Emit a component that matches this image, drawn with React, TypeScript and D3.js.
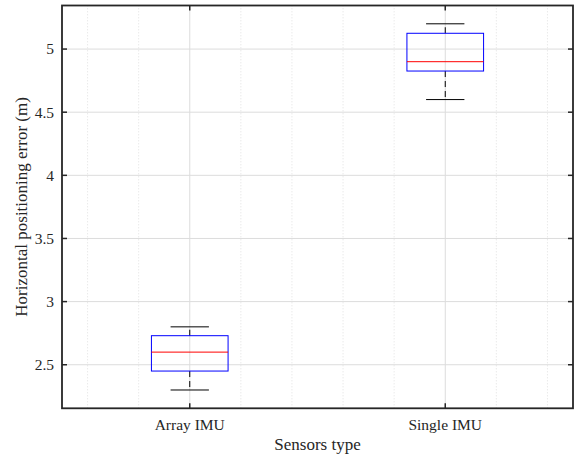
import React from "react";
import * as d3 from "d3";

const categories = ["Array IMU", "Single IMU"];
const whiskerLow = [2.3, 4.6];
const q1 = [2.45, 4.826];
const median = [2.6, 4.9];
const q3 = [2.73, 5.125];
const whiskerHigh = [2.8, 5.2];
const yTicks = [2.5, 3, 3.5, 4, 4.5, 5];
const xMinorTicks = [0.6, 0.8, 1.2, 1.4, 1.6, 1.8, 2.2, 2.4];

const W = 582, H = 456;
const M = { left: 62, right: 9, top: 5.5, bottom: 47.7 };

export default function App() {
  const x = d3.scaleLinear().domain([0.5, 2.5]).range([M.left, W - M.right]);
  const y = d3.scaleLinear().domain([2.155, 5.345]).range([H - M.bottom, M.top]);
  const x0 = M.left, x1 = W - M.right, y0 = H - M.bottom, y1 = M.top;
  const font = "'Liberation Serif', 'Times New Roman', serif";
  const boxHalf = 0.15, capHalf = 0.075;
  return (
    <svg width={W} height={H} style={{ position: "absolute", left: 0, top: 0, background: "#fff" }}>
      {xMinorTicks.map((t) => (
        <line key={"mx" + t} x1={x(t)} x2={x(t)} y1={y0} y2={y1} stroke="#d9d9d9" strokeWidth={0.8} strokeDasharray="1,2" />
      ))}
      {[1, 2].map((t) => (
        <line key={"gx" + t} x1={x(t)} x2={x(t)} y1={y0} y2={y1} stroke="#dcdcdc" strokeWidth={1} />
      ))}
      {yTicks.map((t) => (
        <line key={"gy" + t} x1={x0} x2={x1} y1={y(t)} y2={y(t)} stroke="#dcdcdc" strokeWidth={1} />
      ))}
      {categories.map((c, i) => {
        const cx = x(i + 1);
        const bw = x(1 + boxHalf) - x(1);
        const cw = x(1 + capHalf) - x(1);
        return (
          <g key={c}>
            <line x1={cx} x2={cx} y1={y(q3[i])} y2={y(whiskerHigh[i])} stroke="#000" strokeWidth={1} strokeDasharray="6,4" />
            <line x1={cx} x2={cx} y1={y(q1[i])} y2={y(whiskerLow[i])} stroke="#000" strokeWidth={1} strokeDasharray="6,4" />
            <line x1={cx - cw} x2={cx + cw} y1={y(whiskerHigh[i])} y2={y(whiskerHigh[i])} stroke="#000" strokeWidth={1} />
            <line x1={cx - cw} x2={cx + cw} y1={y(whiskerLow[i])} y2={y(whiskerLow[i])} stroke="#000" strokeWidth={1} />
            <rect x={cx - bw} y={y(q3[i])} width={2 * bw} height={y(q1[i]) - y(q3[i])} fill="none" stroke="#0000ff" strokeWidth={1} />
            <line x1={cx - bw} x2={cx + bw} y1={y(median[i])} y2={y(median[i])} stroke="#ff0000" strokeWidth={1} />
          </g>
        );
      })}
      {yTicks.map((t) => (
        <g key={"ty" + t}>
          <line x1={x0} x2={x0 + 5} y1={y(t)} y2={y(t)} stroke="#262626" strokeWidth={1.5} />
          <line x1={x1} x2={x1 - 5} y1={y(t)} y2={y(t)} stroke="#262626" strokeWidth={1.5} />
          <text x={x0 - 8} y={y(t)} dy="0.35em" textAnchor="end" fontFamily={font} fontSize={15.5} fill="#262626">{t}</text>
        </g>
      ))}
      {categories.map((c, i) => (
        <g key={"tx" + c}>
          <line x1={x(i + 1)} x2={x(i + 1)} y1={y0} y2={y0 - 5} stroke="#262626" strokeWidth={1.5} />
          <line x1={x(i + 1)} x2={x(i + 1)} y1={y1} y2={y1 + 5} stroke="#262626" strokeWidth={1.5} />
          <text x={x(i + 1)} y={y0 + 22} textAnchor="middle" fontFamily={font} fontSize={15.5} fill="#262626">{c}</text>
        </g>
      ))}
      <rect x={x0} y={y1} width={x1 - x0} height={y0 - y1} fill="none" stroke="#262626" strokeWidth={1.8} />
      <text x={(x0 + x1) / 2} y={y0 + 42} textAnchor="middle" fontFamily={font} fontSize={17} fill="#262626">Sensors type</text>
      <text transform={`translate(27,${(y0 + y1) / 2}) rotate(-90)`} textAnchor="middle" fontFamily={font} fontSize={17} fill="#262626">Horizontal positioning error (m)</text>
    </svg>
  );
}
